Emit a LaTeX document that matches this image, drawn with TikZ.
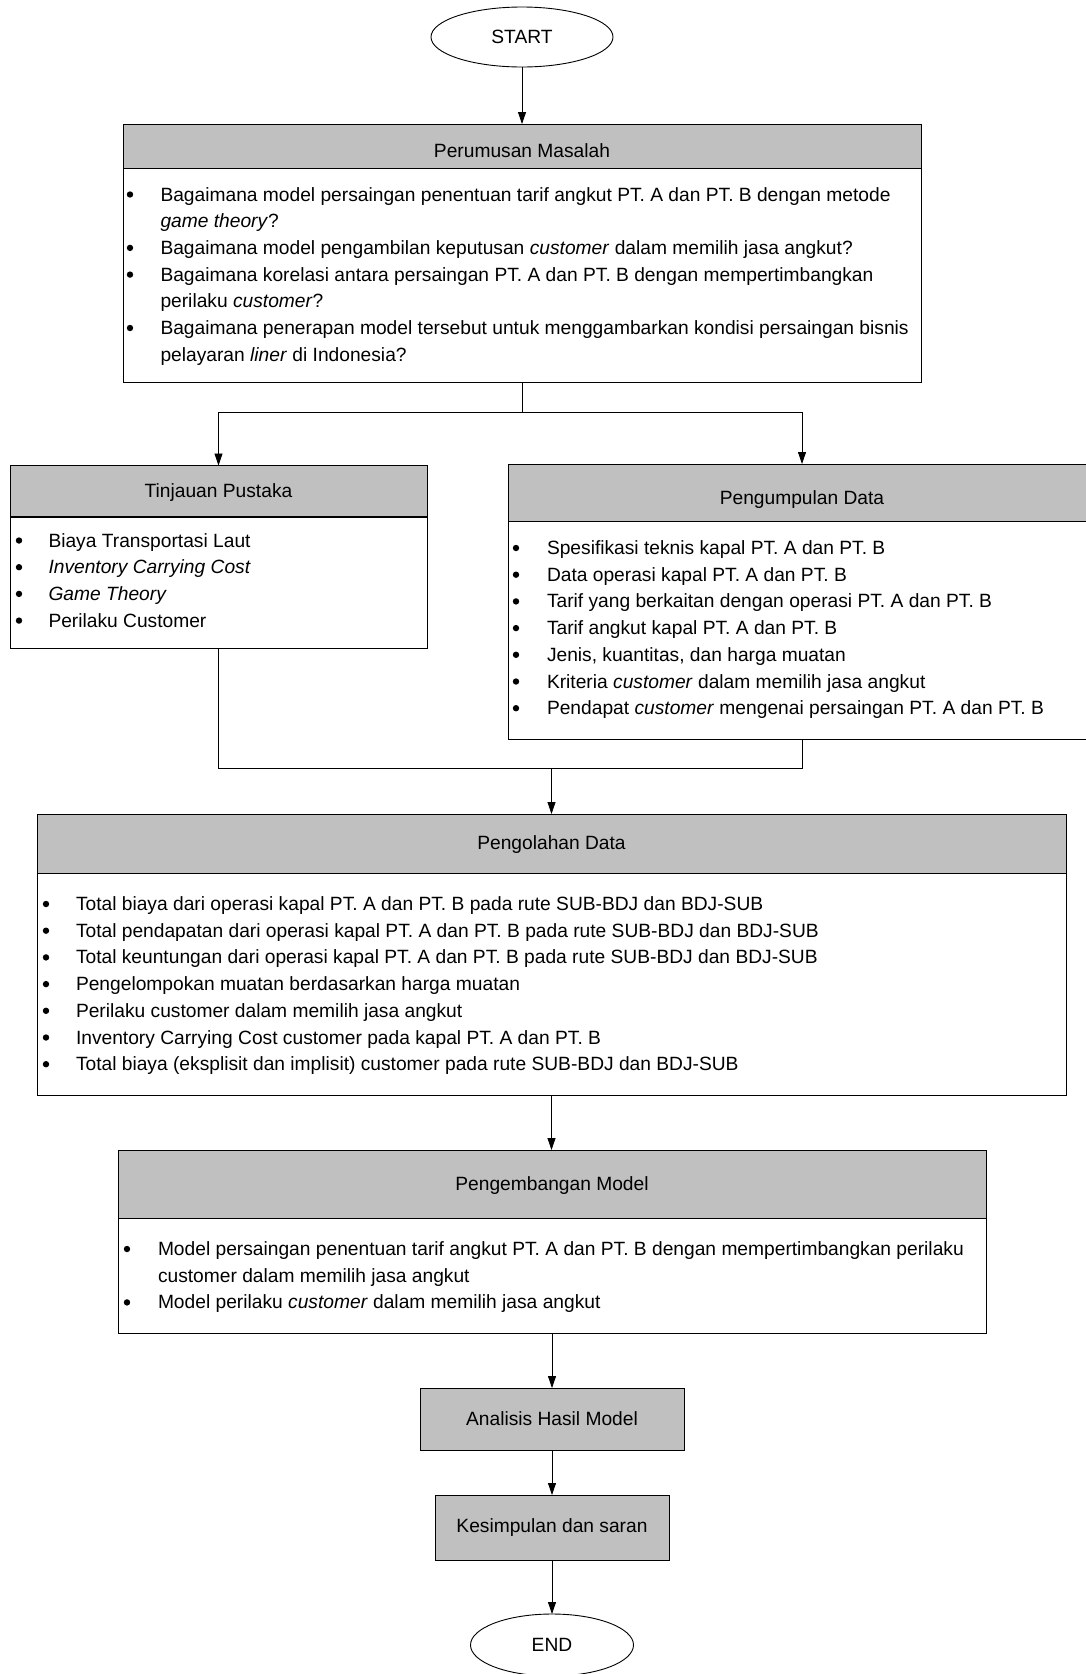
\documentclass[tikz,border=0pt]{standalone}
\usepackage{fontspec}
\setmainfont{Liberation Sans}
\usetikzlibrary{shapes.geometric,arrows.meta}
\definecolor{hdr}{RGB}{192,192,192}
\begin{document}
\frenchspacing
\begin{tikzpicture}[x=1pt,y=-1pt,
  every node/.style={font=\fontsize{19.2}{23}\selectfont, inner sep=0pt, outer sep=0pt},
  box/.style={draw, line width=0.9pt, rectangle},
  hdrbox/.style={box, fill=hdr},
  bodybox/.style={box, fill=white},
  term/.style={draw, line width=0.9pt, ellipse, fill=white},
  txt/.style={anchor=base west},
  ttl/.style={anchor=base},
  conn/.style={line width=0.8pt},
  arr/.style={conn, -{Triangle[length=12pt,width=8pt]}},
]
\useasboundingbox (0,0) rectangle (1086,1674);
\clip (0,0) rectangle (1086,1674);

% START
\node[term, minimum width=182pt, minimum height=60pt] (start) at (522,37) {START};

% Perumusan Masalah
\node[bodybox, minimum width=798pt, minimum height=214pt] (pmb) at (522,275) {};
\node[hdrbox, minimum width=798pt, minimum height=44pt] (pmh) at (522,146) {};
\node[ttl] (pmt) at (522,157.5) {Perumusan Masalah};
\foreach \b/\t [count=\i] in {
 1/{Bagaimana model persaingan penentuan tarif angkut PT. A dan PT. B dengan metode},
 0/{\textit{game theory}?},
 1/{Bagaimana model pengambilan keputusan \textit{customer} dalam memilih jasa angkut?},
 1/{Bagaimana korelasi antara persaingan PT. A dan PT. B dengan mempertimbangkan},
 0/{perilaku \textit{customer}?},
 1/{Bagaimana penerapan model tersebut untuk menggambarkan kondisi persaingan bisnis},
 0/{pelayaran \textit{liner} di Indonesia?}}
{\node[txt] (pm\i) at (160.5,{201+26.7*(\i-1)}) {\t};
 \ifnum\b=1 \fill (130,{194.5+26.7*(\i-1)}) circle (3.2pt);\fi}

% Tinjauan Pustaka
\node[bodybox, minimum width=417pt, minimum height=131pt] (tpb) at (218.5,582.5) {};
\node[hdrbox, minimum width=417pt, minimum height=51pt] (tph) at (218.5,491) {};
\node[ttl] (tpt) at (218.5,497.3) {Tinjauan Pustaka};
\foreach \t [count=\i] in {
 {Biaya Transportasi Laut},
 {\textit{Inventory Carrying Cost}},
 {\textit{Game Theory}},
 {Perilaku Customer}}
{\node[txt] (tp\i) at (48.5,{547+26.7*(\i-1)}) {\t};
 \fill (19,{540.5+26.7*(\i-1)}) circle (3.2pt);}

% Pengumpulan Data
\node[bodybox, minimum width=588pt, minimum height=218pt] (pdb) at (802,630) {};
\node[hdrbox, minimum width=588pt, minimum height=57pt] (pdh) at (802,492.5) {};
\node[ttl] (pdt) at (802,504) {Pengumpulan Data};
\foreach \t [count=\i] in {
 {Spesifikasi teknis kapal PT. A dan PT. B},
 {Data operasi kapal PT. A dan PT. B},
 {Tarif yang berkaitan dengan operasi PT. A dan PT. B},
 {Tarif angkut kapal PT. A dan PT. B},
 {Jenis, kuantitas, dan harga muatan},
 {Kriteria \textit{customer} dalam memilih jasa angkut},
 {Pendapat \textit{customer} mengenai persaingan PT. A dan PT. B}}
{\node[txt] (pd\i) at (547,{554.5+26.7*(\i-1)}) {\t};
 \fill (516,{548+26.7*(\i-1)}) circle (3.2pt);}

% Pengolahan Data
\node[bodybox, minimum width=1029pt, minimum height=222pt] (ogb) at (551.5,984) {};
\node[hdrbox, minimum width=1029pt, minimum height=59pt] (ogh) at (551.5,843.5) {};
\node[ttl] (ogt) at (551.5,849.3) {Pengolahan Data};
\foreach \t [count=\i] in {
 {Total biaya dari operasi kapal PT. A dan PT. B pada rute SUB-BDJ dan BDJ-SUB},
 {Total pendapatan dari operasi kapal PT. A dan PT. B pada rute SUB-BDJ dan BDJ-SUB},
 {Total keuntungan dari operasi kapal PT. A dan PT. B pada rute SUB-BDJ dan BDJ-SUB},
 {Pengelompokan muatan berdasarkan harga muatan},
 {Perilaku customer dalam memilih jasa angkut},
 {Inventory Carrying Cost customer pada kapal PT. A dan PT. B},
 {Total biaya (eksplisit dan implisit) customer pada rute SUB-BDJ dan BDJ-SUB}}
{\node[txt] (og\i) at (76,{910.5+26.7*(\i-1)}) {\t};
 \fill (46,{904+26.7*(\i-1)}) circle (3.2pt);}

% Pengembangan Model
\node[bodybox, minimum width=868pt, minimum height=115pt] (mdb) at (552,1275.5) {};
\node[hdrbox, minimum width=868pt, minimum height=68pt] (mdh) at (552,1184) {};
\node[ttl] (mdt) at (552,1190) {Pengembangan Model};
\foreach \b/\t [count=\i] in {
 1/{Model persaingan penentuan tarif angkut PT. A dan PT. B dengan mempertimbangkan perilaku},
 0/{customer dalam memilih jasa angkut},
 1/{Model perilaku \textit{customer} dalam memilih jasa angkut}}
{\node[txt] (md\i) at (158,{1255.5+26.7*(\i-1)}) {\t};
 \ifnum\b=1 \fill (127,{1249+26.7*(\i-1)}) circle (3.2pt);\fi}

% Analisis, Kesimpulan, END
\node[hdrbox, minimum width=264pt, minimum height=62pt] (an) at (552,1419) {Analisis Hasil Model};
\node[hdrbox, minimum width=234pt, minimum height=65pt] (ks) at (552,1527.5) {Kesimpulan dan saran};
\node[term, minimum width=163pt, minimum height=62pt] (end) at (552,1645) {END};

% connectors
\draw[arr] (start) -- (pmh);
\coordinate (sp) at (522,412);
\draw[conn] (pmb) -- (sp);
\draw[arr] (sp) -| (tph.north);
\draw[arr] (sp) -| (pdh.north);
\coordinate (mg) at (551.5,768);
\draw[conn] (tpb.south) |- (mg) -| (pdb.south);
\draw[arr] (mg) -- (ogh.north);
\draw[arr] (ogb.south) -- (ogb.south |- mdh.north);
\draw[arr] (mdb) -- (an);
\draw[arr] (an) -- (ks);
\draw[arr] (ks) -- (end);
\end{tikzpicture}
\end{document}
